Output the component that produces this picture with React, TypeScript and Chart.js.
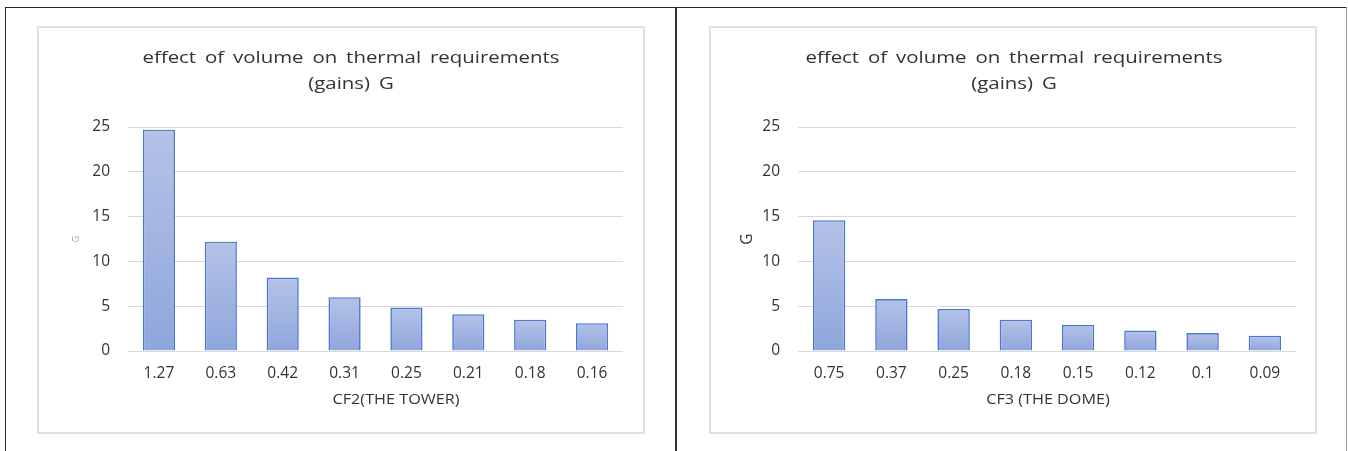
import React, { useEffect, useRef } from 'react';
import { Chart, registerables } from 'chart.js';

Chart.register(...registerables);

// ---- data -------------------------------------------------------------
const towerCategories = ['1.27', '0.63', '0.42', '0.31', '0.25', '0.21', '0.18', '0.16'];
const towerGains = [24.7, 12.2, 8.2, 6.0, 4.85, 4.1, 3.5, 3.1];

const domeCategories = ['0.75', '0.37', '0.25', '0.18', '0.15', '0.12', '0.1', '0.09'];
const domeGains = [14.6, 5.8, 4.7, 3.5, 2.9, 2.3, 2.0, 1.7];

const gainTicks = [0, 5, 10, 15, 20, 25];
const titleLines = ['effect of volume on thermal requirements', '(gains) G'];
const towerCaption = 'CF2(THE TOWER)';
const domeCaption = 'CF3 (THE DOME)';
const valueAxisLabel = 'G';

// ---- styling ----------------------------------------------------------
const FONT = '"Open Sans", Lato, "DejaVu Sans", sans-serif';
const TEXT = '#333333';
const GRID = '#d9d9d9';
const BAR_TOP = '#b4c2e7';
const BAR_BOTTOM = '#8fa6dc';
const BAR_EDGE = '#4a78cc';

const CANVAS_W = 604;
const CANVAS_H = 404;

// Draws the two-line heading and the category-axis caption (slightly widened text).
const headingPlugin = {
  id: 'heading',
  afterDraw(chart: any, _args: any, opts: any) {
    const { ctx } = chart;
    const put = (text: string, x: number, y: number, sx: number) => {
      ctx.save();
      ctx.translate(x, y);
      ctx.scale(sx, 1);
      ctx.fillText(text, 0, 0);
      ctx.restore();
    };
    ctx.save();
    ctx.textAlign = 'center';
    ctx.textBaseline = 'middle';
    ctx.fillStyle = opts.color;
    ctx.font = `${opts.titleSize}px ${FONT}`;
    (ctx as any).wordSpacing = `${opts.wordSpacing}px`;
    opts.lines.forEach((line: string, i: number) => {
      put(line, opts.titleX, opts.titleY + i * opts.lineGap, opts.titleStretch);
    });
    (ctx as any).wordSpacing = '0px';
    ctx.font = `${opts.captionSize}px ${FONT}`;
    put(opts.caption, opts.captionX, opts.captionY, opts.captionStretch);
    ctx.restore();
  },
};

type PanelProps = {
  categories: string[];
  values: number[];
  caption: string;
  boxLeft: number;
  axisWidth: number;
  rightPad: number;
  titleX: number;
  captionX: number;
  yTitleSize: number;
  yTitleColor: string;
  yTitleOffset: number;
};

function GainPanel(props: PanelProps) {
  const ref = useRef<HTMLCanvasElement | null>(null);

  useEffect(() => {
    if (!ref.current) return;
    const chart = new Chart(ref.current, {
      type: 'bar',
      data: {
        labels: props.categories,
        datasets: [
          {
            data: props.values,
            backgroundColor: (c: any) => {
              const y = c.chart.scales?.y;
              if (!y || c.type !== 'data') return BAR_TOP;
              const top = y.getPixelForValue(c.raw as number);
              const base = y.getPixelForValue(0);
              if (!isFinite(top) || !isFinite(base) || top === base) return BAR_TOP;
              const g = c.chart.ctx.createLinearGradient(0, top, 0, base);
              g.addColorStop(0, BAR_TOP);
              g.addColorStop(1, BAR_BOTTOM);
              return g;
            },
            borderColor: BAR_EDGE,
            borderWidth: 1.6,
            borderSkipped: 'bottom',
            barPercentage: 1,
            categoryPercentage: 0.52,
          },
        ],
      },
      options: {
        animation: false,
        responsive: false,
        devicePixelRatio: 1,
        layout: { padding: { left: 0, top: 99, right: props.rightPad, bottom: 0 } },
        plugins: {
          legend: { display: false },
          tooltip: { enabled: false },
          heading: {
            lines: titleLines,
            caption: props.caption,
            color: TEXT,
            titleSize: 17,
            wordSpacing: 3,
            titleStretch: 1.2,
            lineGap: 26,
            titleX: props.titleX,
            titleY: 30,
            captionSize: 15,
            captionStretch: 1.08,
            captionX: props.captionX,
            captionY: 372,
          },
        } as any,
        scales: {
          x: {
            grid: { display: false },
            border: { display: false },
            ticks: {
              color: TEXT,
              padding: 5,
              maxRotation: 0,
              autoSkip: false,
              font: { family: FONT, size: 15.5 },
            },
            afterFit: (s: any) => {
              s.height = CANVAS_H - 323;
            },
          },
          y: {
            min: 0,
            max: gainTicks[gainTicks.length - 1],
            afterBuildTicks: (s: any) => {
              s.ticks = gainTicks.map((v) => ({ value: v }));
            },
            grid: { color: GRID, lineWidth: 1, drawTicks: false },
            border: { display: false },
            ticks: {
              color: TEXT,
              padding: 18,
              font: { family: FONT, size: 15.5 },
            },
            title: {
              display: true,
              text: valueAxisLabel,
              color: props.yTitleColor,
              font: { family: FONT, size: props.yTitleSize },
              padding: { top: props.yTitleOffset, bottom: 0 },
            },
            afterFit: (s: any) => {
              s.width = props.axisWidth;
            },
          },
        },
      },
      plugins: [headingPlugin as any],
    });
    return () => chart.destroy();
  }, []);

  return (
    <div
      style={{
        position: 'absolute',
        left: props.boxLeft,
        top: 26,
        width: CANVAS_W + 4,
        height: CANVAS_H + 4,
        boxSizing: 'border-box',
        border: '2px solid #e0e0e0',
        background: '#fff',
      }}
    >
      <canvas ref={ref} width={CANVAS_W} height={CANVAS_H} style={{ display: 'block' }} />
    </div>
  );
}

export default function App() {
  return (
    <div
      style={{
        position: 'fixed',
        left: 0,
        top: 0,
        width: 1348,
        height: 451,
        background: '#fff',
        overflow: 'hidden',
      }}
    >
      {/* frame lines */}
      <div style={{ position: 'absolute', left: 5, top: 7, width: 1342, height: 1, background: '#262626' }} />
      <div style={{ position: 'absolute', left: 5, top: 7, width: 1, height: 444, background: '#262626' }} />
      <div style={{ position: 'absolute', left: 675, top: 7, width: 2, height: 444, background: '#2e2e2e' }} />
      <div style={{ position: 'absolute', left: 1346, top: 7, width: 1, height: 444, background: '#9a9a9a' }} />

      <GainPanel
        categories={towerCategories}
        values={towerGains}
        caption={towerCaption}
        boxLeft={37}
        axisWidth={89}
        rightPad={20}
        titleX={312}
        captionX={357}
        yTitleSize={9}
        yTitleColor="#9a9a9a"
        yTitleOffset={32}
      />
      <GainPanel
        categories={domeCategories}
        values={domeGains}
        caption={domeCaption}
        boxLeft={709}
        axisWidth={87}
        rightPad={19}
        titleX={303}
        captionX={337}
        yTitleSize={15.5}
        yTitleColor={TEXT}
        yTitleOffset={27}
      />
    </div>
  );
}
